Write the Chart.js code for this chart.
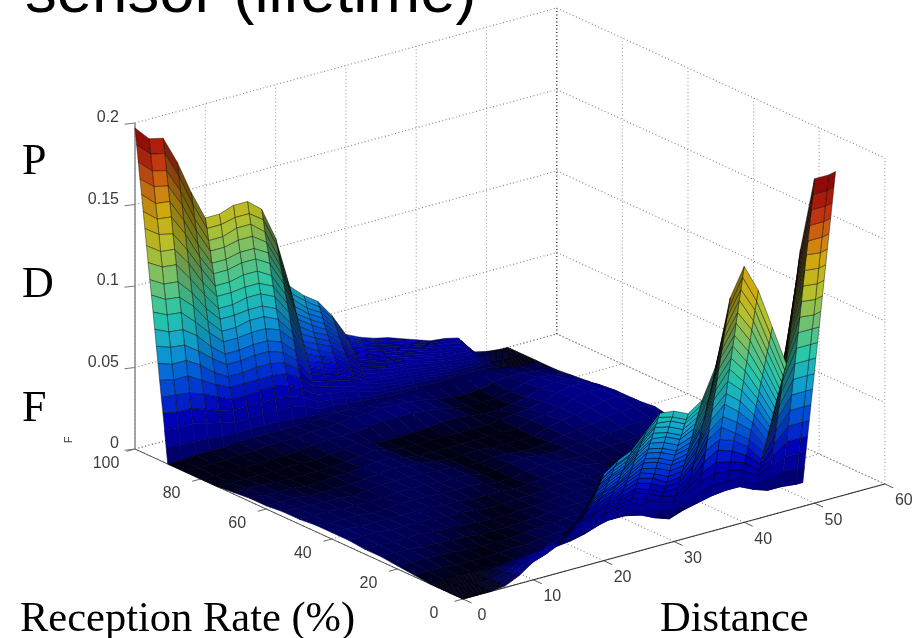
<!DOCTYPE html>
<html>
<head>
<meta charset="utf-8">
<title>PDF surface</title>
<script src="https://cdn.jsdelivr.net/npm/chart.js@4/dist/chart.umd.min.js"></script>
<style>
  html, body { margin: 0; padding: 0; background: #fff; overflow: hidden; }
  #wrap { position: relative; width: 924px; height: 638px; overflow: hidden; }
  canvas { display: block; filter: blur(0.6px); }
  .sans, .serif { position: absolute; color: #000; line-height: 1; white-space: nowrap; }
  .sans { font-family: "Liberation Sans", Arial, sans-serif; }
  .serif { font-family: "Liberation Serif", "Times New Roman", serif; }
</style>
</head>
<body>
<div id="wrap">
  <canvas id="chartPdf" width="924" height="638"></canvas>
  <div class="sans" style="left:25px;top:-41px;font-size:63.5px">sensor (lifetime)</div>
  <div class="serif" style="left:22px;top:138px;font-size:44px">P</div>
  <div class="serif" style="left:22px;top:261px;font-size:44px">D</div>
  <div class="serif" style="left:22px;top:385px;font-size:44px">F</div>
  <div class="serif" style="left:20px;top:596px;font-size:42.5px">Reception Rate (%)</div>
  <div class="serif" style="left:660px;top:596px;font-size:42.5px">Distance</div>
</div>
<script>
// surface grid
const distances = [0,2,4,6,8,10,12,14,16,18,20,22,24,26,28,30,32,34,36,38,40,42,44,46,48,50,52,53];
const rates = [0,0.5,1,1.5,2,2.5,3,3.5,4,4.5,5,5.5,6,6.5,7,7.5,8,8.5,9,9.5,10,
  15,20,25,30,35,40,45,50,55,60,65,70,75,80,85,
  90,90.5,91,91.5,92,92.5,93,93.5,94,94.5,95,95.5,96,96.5,97,97.5,98,98.5,99,99.5,100];

// F x 1000, one row per rate, one column per distance
const pdfRows = [
  [0,0,0,1,5,11,14,18,25,35,53,59,63,72,81,80,76,82,101,140,157,140,115,90,158,199,199,200],
  [0,0,0,1,5,10,13,17,24,33,50,56,60,69,78,76,72,78,96,133,150,133,110,86,150,189,189,190],
  [0,0,0,1,5,10,13,16,23,32,48,54,58,66,74,73,69,74,91,127,142,127,104,82,141,179,179,180],
  [0,0,0,1,4,9,12,15,22,30,45,51,55,63,71,69,65,70,86,120,135,120,99,78,134,169,169,170],
  [0,0,0,1,4,9,11,15,20,28,43,48,52,60,67,65,61,66,81,113,127,114,94,73,127,159,159,160],
  [0,0,0,1,4,8,11,14,19,27,40,46,49,57,63,62,58,62,77,106,120,107,88,69,119,150,149,150],
  [0,0,0,1,4,8,10,13,18,25,38,43,47,54,60,58,54,57,72,100,112,100,83,65,111,140,139,140],
  [0,0,0,1,3,7,9,12,17,23,35,40,44,51,56,54,50,53,67,93,105,93,78,60,103,130,129,130],
  [0,0,0,1,3,7,9,11,16,22,33,37,41,47,53,51,47,49,62,86,97,87,72,56,95,120,119,120],
  [0,0,0,1,3,6,8,10,15,20,30,35,38,44,49,47,43,45,58,79,90,80,67,51,87,110,109,110],
  [0,0,0,1,3,6,8,10,14,19,28,32,36,41,46,44,40,41,52,73,82,74,62,47,80,100,100,100],
  [0,0,0,0,2,5,7,9,12,17,25,30,33,38,42,40,36,37,47,66,74,67,56,43,72,90,90,90],
  [0,0,0,0,2,4,6,8,11,15,23,27,30,35,39,36,32,33,43,59,67,60,51,38,64,80,80,80],
  [0,0,0,0,2,4,6,7,10,14,20,24,27,32,35,33,28,29,37,52,59,53,46,34,56,70,70,70],
  [0,0,0,0,2,3,5,6,9,12,18,21,24,29,32,29,25,25,33,46,52,46,40,30,48,60,60,60],
  [0,0,0,0,1,3,4,5,8,11,16,19,22,25,28,25,21,21,27,39,44,41,35,25,40,50,50,50],
  [0,0,0,0,1,2,3,4,6,9,13,16,19,22,25,22,18,16,23,32,37,34,29,21,32,40,40,40],
  [0,0,0,0,1,2,3,3,5,7,10,13,16,19,21,18,14,12,18,25,29,27,24,17,24,30,30,30],
  [0,0,0,0,1,1,2,3,4,5,8,10,14,16,18,14,10,8,13,19,22,21,19,13,17,20,20,20],
  [0,0,0,0,0,1,2,2,3,4,5,8,11,13,14,11,7,4,8,12,14,14,14,8,9,11,10,10],
  [0,0,0,0,0,0,1,1,2,2,3,5,8,10,11,7,3,0,3,5,7,8,8,4,1,1,0,0],
  [1,1,1,0,0,0,0,1,1,2,3,3,3,3,2,2,1,1,1,2,2,3,3,3,2,2,1,1],
  [2,2,2,1,1,0,0,0,0,1,2,2,3,3,3,2,1,1,1,1,2,2,3,3,3,2,2,1],
  [3,3,3,2,2,1,1,0,0,0,1,1,2,3,3,3,2,1,1,1,1,1,2,3,3,3,2,2],
  [3,3,3,3,3,2,2,1,1,0,0,1,1,2,3,3,3,2,2,1,0,0,1,2,2,3,3,2],
  [4,4,4,3,3,3,3,2,2,1,0,0,1,1,2,3,3,3,3,2,0,0,1,2,3,3,3,2],
  [4,4,3,3,3,3,3,3,2,2,1,1,1,0,1,2,3,3,3,2,1,1,2,3,3,4,4,2],
  [4,3,3,3,2,2,3,3,3,2,2,2,1,0,0,2,3,3,2,2,3,3,3,4,4,5,4,3],
  [3,3,3,2,2,2,2,3,3,3,2,2,2,0,0,2,3,2,1,2,3,3,4,5,6,6,5,3],
  [3,3,2,2,2,1,2,3,3,3,3,2,2,0,0,1,1,0,0,1,3,4,5,7,8,8,7,5],
  [2,2,2,1,1,1,1,2,3,4,3,2,1,0,0,1,0,0,0,0,3,5,6,8,10,10,7,4],
  [2,2,1,1,0,0,1,1,2,3,3,1,0,0,0,0,0,0,0,0,3,4,6,9,11,10,7,3],
  [1,1,1,0,0,0,0,0,1,2,3,1,0,0,0,0,0,0,0,1,2,3,5,8,10,9,6,2],
  [0,0,0,0,0,0,0,0,1,2,3,1,0,0,0,1,2,2,1,0,0,1,3,6,8,7,4,2],
  [0,0,0,0,0,0,0,1,2,3,3,3,4,5,5,5,4,3,1,0,0,0,2,5,6,5,3,1],
  [0,0,0,0,1,1,2,2,2,3,3,4,5,5,6,6,5,4,2,1,0,1,3,4,4,3,2,0],
  [0,0,1,1,1,2,2,2,2,2,2,2,3,3,3,3,3,4,4,4,4,5,5,3,2,1,1,0],
  [10,9,9,8,7,7,7,7,7,6,5,4,3,3,2,2,2,1,1,1,1,1,1,1,0,0,0,0],
  [20,19,19,17,15,13,13,13,13,13,11,7,7,6,5,4,3,3,3,2,2,2,2,1,0,0,0,0],
  [30,28,28,25,22,20,20,20,20,19,16,11,10,9,7,5,5,4,4,3,3,3,2,2,0,0,0,0],
  [39,38,37,34,30,26,26,27,27,25,21,15,13,12,10,7,6,6,5,5,4,3,3,3,1,0,0,0],
  [49,47,47,42,37,33,33,33,33,32,27,19,17,15,12,9,8,7,7,6,5,4,4,4,1,0,0,0],
  [59,56,56,51,44,39,39,40,40,38,32,22,20,18,15,11,9,8,8,7,6,5,5,4,1,0,0,0],
  [69,66,65,59,52,46,46,47,47,44,37,26,23,21,17,12,11,10,9,8,7,6,6,5,1,0,0,0],
  [79,75,74,68,59,52,52,53,53,50,42,30,26,24,20,14,12,11,10,9,8,7,6,6,1,0,0,0],
  [89,85,84,76,67,59,59,60,60,57,48,33,30,27,22,16,14,13,12,10,9,8,7,6,1,0,0,0],
  [99,94,93,85,74,65,65,67,67,63,53,37,33,30,25,18,16,14,13,12,10,9,8,7,2,1,0,0],
  [108,103,102,93,81,72,72,73,73,69,58,41,36,33,27,19,17,15,14,13,11,9,9,8,2,1,0,0],
  [118,113,112,101,89,78,78,80,80,76,64,44,40,36,29,21,19,17,16,14,12,10,10,8,2,1,0,0],
  [128,122,121,110,96,85,85,86,86,82,69,48,43,39,32,23,20,18,17,15,13,11,10,9,2,1,0,0],
  [138,132,130,118,104,91,91,93,93,88,74,52,46,42,34,25,22,20,18,16,14,12,11,10,2,1,0,0],
  [148,141,140,127,111,98,98,100,100,95,80,56,50,45,37,26,23,21,20,17,15,13,12,11,2,1,0,0],
  [158,150,149,135,118,104,104,106,106,101,85,59,53,48,39,28,25,22,21,18,16,14,13,11,2,1,0,0],
  [167,160,158,144,126,111,111,113,113,107,90,63,56,51,42,30,26,24,22,20,17,14,14,12,3,1,0,0],
  [177,169,167,152,133,117,117,120,120,113,95,67,59,54,44,32,28,25,23,21,18,15,14,13,3,1,0,0],
  [187,179,177,161,141,124,124,126,126,120,101,70,63,57,47,33,29,27,25,22,19,16,15,13,3,1,0,0],
  [197,188,186,169,148,130,130,133,133,126,106,74,66,60,49,35,31,28,26,23,20,17,16,14,3,1,0,0]
];

const distanceTicks = [0,10,20,30,40,50,60];
const rateTicks = [0,20,40,60,80,100];
const pdfTicks = [0,0.05,0.1,0.15,0.2];

// colormap stops (F x 1000, colour)
const colorStops = [
  [0,'#000014'],[2,'#000048'],[6,'#000078'],[12,'#000090'],[25,'#0000b8'],[35,'#0028cc'],[50,'#0060d8'],[65,'#10a0d0'],
  [85,'#28c8a8'],[105,'#70c070'],[125,'#b8c028'],[145,'#d0a810'],[160,'#d07010'],[175,'#c03010'],[188,'#a01008'],[200,'#7c0606']
];

function hexToRgb(h) {
  return [parseInt(h.slice(1,3),16), parseInt(h.slice(3,5),16), parseInt(h.slice(5,7),16)];
}

function colorFor(v) {
  for (let i = 1; i < colorStops.length; i++) {
    if (v <= colorStops[i][0]) {
      const a = colorStops[i-1], b = colorStops[i];
      const t = (v - a[0]) / (b[0] - a[0]);
      const ca = hexToRgb(a[1]), cb = hexToRgb(b[1]);
      return ca.map((c, k) => c + (cb[k] - c) * t);
    }
  }
  return hexToRgb(colorStops[colorStops.length-1][1]);
}

// the old matlab view: distance goes up right, rate goes up left, F goes up
function project(d, r, f) {
  return { x: 463 + 7.03 * d - 3.28 * r, y: 599 - 1.917 * d - 1.5 * r - 1.63 * f };
}

const datasets = [];

// chart.js paints the first dataset last, so nearest cell goes in first
for (let i = 0; i < rates.length - 1; i++) {
  for (let j = 0; j < distances.length - 1; j++) {
    const a = pdfRows[i][j], b = pdfRows[i][j+1], c = pdfRows[i+1][j+1], e = pdfRows[i+1][j];
    const p = project(distances[j], rates[i], a);
    const mean = (a + b + c + e) / 4;
    // cells seen edge on look dark, the mesh bunches up there.
    // that is falling cells on the far wall, rising ones on the near wall
    const rise = (b - a + c - e) / 2;
    const lean = Math.max(0, (rates[i] < 50 ? rise : -rise) * 1.63 - 8);
    const shade = 1 - Math.min(0.7, lean / 55);
    const rgb = colorFor(mean).map(v => Math.round(v * shade));
    const fillColor = 'rgb(' + rgb.join(',') + ')';
    datasets.push({
      showLine: true,
      fill: 'shape',
      backgroundColor: fillColor,
      // no mesh to see on the flat part
      borderColor: mean < 15 ? fillColor : 'rgba(0,0,0,0.6)',
      borderWidth: 0.7,
      pointRadius: 0,
      data: [p, project(distances[j+1], rates[i], b), project(distances[j+1], rates[i+1], c), project(distances[j], rates[i+1], e), p]
    });
  }
}

function addLine(from, to, color, width, dash) {
  datasets.push({
    showLine: true,
    fill: false,
    borderColor: color,
    borderWidth: width,
    borderDash: dash,
    pointRadius: 0,
    data: [project(from[0], from[1], from[2]), project(to[0], to[1], to[2])]
  });
}

// axes
addLine([0,100,0], [0,100,200], '#909090', 1.6, []);
addLine([0,0,0], [0,100,0], '#555555', 1, []);
addLine([0,0,0], [60,0,0], '#333333', 1.2, []);
distanceTicks.forEach(d => addLine([d,0,0], [d,-2.6,0], '#555555', 1, []));
rateTicks.forEach(r => addLine([0,r,0], [-1.2,r,0], '#666666', 1, []));
pdfTicks.forEach(t => addLine([0,100,t*1000], [-1.5,100,t*1000 + 1], '#777777', 1, []));

// dotted box grid
const gridColor = '#808080';
const gridDash = [1,2.5];
pdfTicks.forEach(t => {
  addLine([0,100,t*1000], [60,100,t*1000], gridColor, 1.1, gridDash);
  addLine([60,100,t*1000], [60,0,t*1000], gridColor, 1.1, gridDash);
});
distanceTicks.forEach(d => {
  addLine([d,100,0], [d,100,200], d === 60 ? '#222222' : '#a0a0a0', 1.1, gridDash);
  addLine([d,0,0], [d,100,0], gridColor, 1.1, gridDash);
});
rateTicks.forEach(r => {
  addLine([60,r,0], [60,r,200], '#a0a0a0', 1.1, gridDash);
  addLine([0,r,0], [60,r,0], gridColor, 1.1, gridDash);
});

// tick labels go on top of the surface
const tickTextPlugin = {
  id: 'tickTextPlugin',
  afterDraw(chart) {
    const ctx = chart.ctx;
    const sx = chart.scales.x, sy = chart.scales.y;
    const at = (d, r, f, ox, oy) => {
      const p = project(d, r, f);
      return [sx.getPixelForValue(p.x) + ox, sy.getPixelForValue(p.y) + oy];
    };
    ctx.save();
    ctx.fillStyle = '#3c3c3c';
    ctx.font = '16px "Liberation Sans", Arial, sans-serif';
    ctx.textBaseline = 'middle';
    ctx.textAlign = 'right';
    pdfTicks.forEach(t => {
      const pos = at(0, 100, t * 1000, -16, -5);
      ctx.fillText(String(t), pos[0], pos[1]);
    });
    ctx.textAlign = 'center';
    rateTicks.forEach(r => {
      const pos = at(0, r, 0, -29, 15);
      ctx.fillText(String(r), pos[0], pos[1]);
    });
    distanceTicks.forEach(d => {
      const pos = at(d, 0, 0, 19, 17);
      ctx.fillText(String(d), pos[0], pos[1]);
    });
    ctx.translate(69, 440);
    ctx.rotate(-Math.PI / 2);
    ctx.font = '11px "Liberation Sans", Arial, sans-serif';
    ctx.fillText('F', 0, 0);
    ctx.restore();
  }
};

new Chart(document.getElementById('chartPdf'), {
  type: 'scatter',
  data: { datasets: datasets },
  options: {
    responsive: false,
    animation: false,
    events: [],
    layout: { padding: 0 },
    plugins: { legend: { display: false }, tooltip: { enabled: false }, title: { display: false } },
    scales: {
      x: { type: 'linear', display: false, min: 0, max: 924 },
      y: { type: 'linear', display: false, min: 0, max: 638, reverse: true }
    }
  },
  plugins: [tickTextPlugin]
});
</script>
</body>
</html>
